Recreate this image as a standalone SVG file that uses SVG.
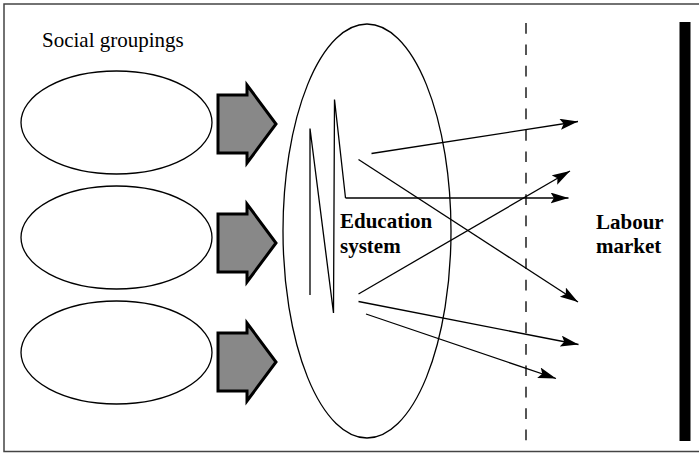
<svg xmlns="http://www.w3.org/2000/svg" xmlns:xlink="http://www.w3.org/1999/xlink" width="699" height="454" viewBox="0 0 699 454">
  <style>
    .outline { fill: #ffffff; stroke: #000000; stroke-width: 1.3; }
    .line { fill: none; stroke: #000000; stroke-width: 1.3; }
    .flow { fill: #888888; stroke: #000000; stroke-width: 3; stroke-linejoin: miter; }
    .label { font-family: "Liberation Serif", "Times New Roman", serif; font-size: 21px; fill: #000000; }
    .bold { font-weight: bold; }
  </style>
  <defs>
    <marker id="head" markerUnits="userSpaceOnUse" markerWidth="20" markerHeight="12" refX="18" refY="5.5" orient="auto">
      <path d="M0,0 L18,5.5 L0,11 L3.5,5.5 z" fill="#000000"/>
    </marker>
    <!-- block arrow, head spans 0..78 vertically, tip at x=58 -->
    <path id="block" d="M0,10 L29,10 L29,0 L58,39 L29,78 L29,68 L0,68 z"/>
  </defs>

  <!-- frame -->
  <rect x="4" y="4" width="710" height="447.5" fill="#ffffff" stroke="#444444" stroke-width="1.5"/>

  <!-- social groupings -->
  <g id="social-groupings">
    <text class="label" x="42" y="47">Social groupings</text>
    <ellipse id="group-1" class="outline" cx="116.5" cy="122.5" rx="95.5" ry="51.5"/>
    <ellipse id="group-2" class="outline" cx="116.5" cy="237.5" rx="95.5" ry="51.5"/>
    <ellipse id="group-3" class="outline" cx="116.5" cy="352.5" rx="95.5" ry="51.5"/>
  </g>

  <!-- education system -->
  <g id="education-system">
    <ellipse class="outline" cx="367" cy="231" rx="84" ry="207"/>
    <polyline class="line" points="310,295 310,128.5 333.5,313 334.5,99.5 345.5,198"/>
    <text class="label bold" x="340" y="228">Education</text>
    <text class="label bold" x="340" y="253">system</text>
  </g>

  <!-- labour market -->
  <g id="labour-market">
    <line x1="526" y1="23" x2="526" y2="441" stroke="#555555" stroke-width="2" stroke-dasharray="10.7 10.7"/>
    <rect x="679.5" y="22" width="11" height="419" fill="#000000"/>
    <text class="label bold" x="596" y="229">Labour</text>
    <text class="label bold" x="596" y="253">market</text>
  </g>

  <!-- connectors -->
  <g id="connectors">
    <use xlink:href="#block" class="flow" transform="translate(218,85)"/>
    <use xlink:href="#block" class="flow" transform="translate(218,204)"/>
    <use xlink:href="#block" class="flow" transform="translate(218,323)"/>

    <line class="line" x1="371.5" y1="153.5" x2="578" y2="121.5" marker-end="url(#head)"/>
    <line class="line" x1="358.5" y1="159.5" x2="578" y2="302" marker-end="url(#head)"/>
    <line class="line" x1="345.5" y1="198" x2="568.5" y2="198" marker-end="url(#head)"/>
    <line class="line" x1="358.5" y1="294" x2="570" y2="171" marker-end="url(#head)"/>
    <line class="line" x1="358.5" y1="301.5" x2="578.5" y2="344.5" marker-end="url(#head)"/>
    <line class="line" x1="366" y1="314" x2="556" y2="378.5" marker-end="url(#head)"/>
  </g>
</svg>
